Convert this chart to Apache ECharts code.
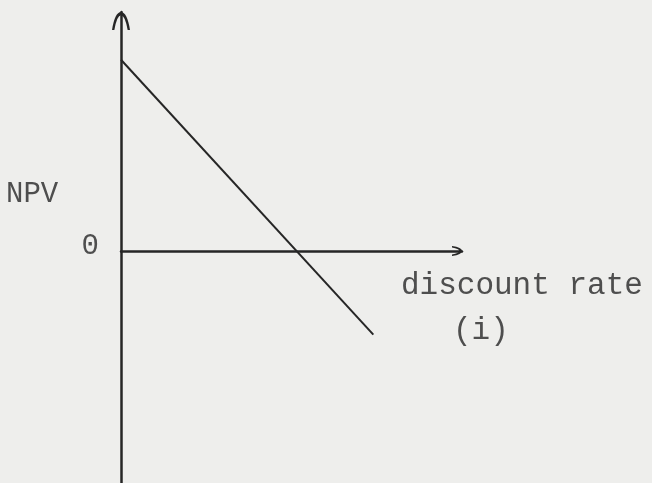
<!DOCTYPE html>
<html>
<head>
<meta charset="utf-8">
<script src="https://cdn.jsdelivr.net/npm/echarts@6/dist/echarts.min.js"></script>
<style>
html,body{margin:0;padding:0;background:#eeeeec;}
#c{width:652px;height:483px;}
</style>
</head>
<body>
<div id="c"></div>
<script>
// schematic NPV profile
const rates = [0, 14.8];
const npv = [8.0, -3.5];
const yTicks = ['0'];
const yTitle = 'NPV';
const xTitle = 'discount rate';
const xUnit = '(i)';

const chevronY = 'path://M0,100 Q16,0 50,0 Q84,0 100,100 L87,100 Q72,18 50,18 Q28,18 13,100 Z';
const chevronX = 'path://M0,100 Q14,0 50,0 Q86,0 100,100 L84,100 Q72,28 50,28 Q28,28 16,100 Z';
const ink = '#262626';
const textInk = '#4e4e4e';
const font = '"Liberation Mono", "DejaVu Sans Mono", monospace';

const chart = echarts.init(document.getElementById('c'), null, {renderer: 'canvas'});
chart.setOption({
  backgroundColor: '#eeeeec',
  animation: false,
  grid: {left: 121, width: 341, top: 12, height: 478, containLabel: false, outerBoundsMode: 'none'},
  xAxis: {
    type: 'value', min: 0, max: 20,
    axisLine: {show: true, onZero: true, lineStyle: {color: ink, width: 2.5},
      symbol: ['none', chevronX], symbolSize: [22, 10], symbolOffset: [0, -5]},
    axisTick: {show: false}, axisLabel: {show: false}, splitLine: {show: false}
  },
  yAxis: {
    type: 'value', min: -10, max: 10, interval: 10,
    axisLine: {show: true, onZero: true, lineStyle: {color: ink, width: 2.5},
      symbol: ['none', chevronY], symbolSize: [28, 18], symbolOffset: [0, -9]},
    axisTick: {show: false}, splitLine: {show: false},
    axisLabel: {
      show: true, margin: 22, color: textInk, fontFamily: font, fontSize: 29,
      verticalAlign: 'bottom', lineHeight: 10,
      formatter: function (v) { return yTicks.indexOf(String(v)) >= 0 ? String(v) : ''; }
    }
  },
  graphic: [
    {type: 'text', left: 6, top: 180, style: {text: yTitle, fill: textInk, font: '29px ' + font}},
    {type: 'text', left: 401, top: 270, style: {text: xTitle, fill: textInk, font: '31px ' + font}},
    {type: 'text', left: 453, top: 315, style: {text: xUnit, fill: textInk, font: '31px ' + font}}
  ],
  series: [{
    type: 'line',
    data: rates.map((r, i) => [r, npv[i]]),
    symbol: 'none',
    lineStyle: {color: ink, width: 2},
    silent: true
  }]
});
</script>
</body>
</html>
